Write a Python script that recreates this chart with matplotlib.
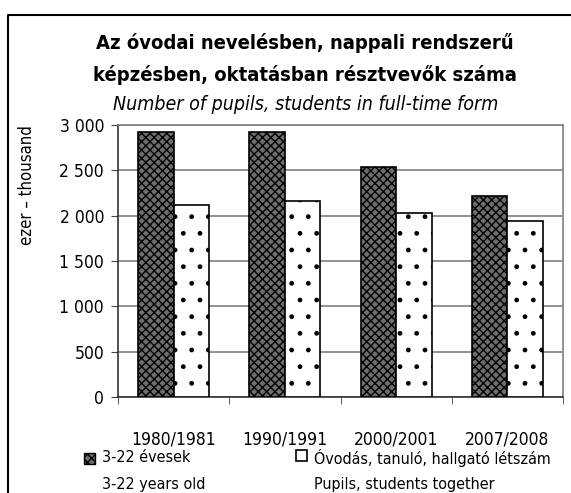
import matplotlib
matplotlib.use("Agg")
import matplotlib.pyplot as plt
from matplotlib.patches import Rectangle
from matplotlib.lines import Line2D
import numpy as np

plt.rcParams['font.family'] = ['DejaVu Sans']
plt.rcParams['font.stretch'] = 'condensed'
plt.rcParams['hatch.linewidth'] = 1.0

# data (thousand persons)
years = ['1980/1981', '1990/1991', '2000/2001', '2007/2008']
age_3_22 = [2925, 2926, 2533, 2222]
pupils = [2118, 2162, 2029, 1941]
yticks = [0, 500, 1000, 1500, 2000, 2500, 3000]
ytick_labels = ['0', '500', '1 000', '1 500', '2 000', '2 500', '3 000']

W, H = 571, 493
fig = plt.figure(figsize=(W / 100, H / 100), dpi=100)
ax = fig.add_axes([118 / W, 1 - 397 / H, (563 - 118) / W, (397 - 125) / H])

x = np.arange(len(years))
bw = 0.32
ax.bar(x - bw / 2, age_3_22, bw, facecolor='#6e6e6e', edgecolor='black',
       hatch='xxxx', linewidth=1.2, zorder=3)
ax.bar(x + bw / 2, pupils, bw, facecolor='white', edgecolor='black',
       hatch='.', linewidth=1.2, zorder=3)

ax.set_xlim(-0.5, len(years) - 0.5)
ax.set_ylim(0, 3000)
ax.set_yticks(yticks)
ax.set_yticklabels(ytick_labels, fontsize=12.5)
ax.set_xticks(x)
ax.set_xticklabels(years, fontsize=12.5)
ax.tick_params(axis='x', length=0, pad=24)
ax.set_xticks(np.arange(len(years) + 1) - 0.5, minor=True)
ax.tick_params(axis='x', which='minor', length=5, direction='out', color='#444444')
ax.tick_params(axis='y', length=5, direction='out', pad=5, color='#444444')
ax.yaxis.grid(True, color='#808080', linewidth=1.2, zorder=0)
for s in ['top', 'right']:
    ax.spines[s].set_color('#808080')
    ax.spines[s].set_linewidth(1.2)
for s in ['left', 'bottom']:
    ax.spines[s].set_color('#333333')
    ax.spines[s].set_linewidth(1.2)

ax.set_ylabel('ezer – thousand', fontsize=12)
ax.yaxis.set_label_coords(-0.185, 0.78)

# titles
fig.text(305 / W, 1 - 43 / H, 'Az óvodai nevelésben, nappali rendszerű',
         ha='center', va='center', fontsize=14.5, fontweight='bold')
fig.text(305 / W, 1 - 75 / H, 'képzésben, oktatásban résztvevők száma',
         ha='center', va='center', fontsize=14.5, fontweight='bold')
fig.text(306 / W, 1 - 105 / H, 'Number of pupils, students in full-time form',
         ha='center', va='center', fontsize=14, style='italic')

# legend drawn by hand
fig.patches.append(Rectangle((84 / W, 1 - 464 / H), 11 / W, 11 / H,
                             transform=fig.transFigure, facecolor='#6e6e6e',
                             edgecolor='black', hatch='xxxx', linewidth=1))
fig.text(102 / W, 1 - 458 / H, '3-22 évesek', ha='left', va='center', fontsize=11.5)
fig.text(102 / W, 1 - 485 / H, '3-22 years old', ha='left', va='center', fontsize=11.5)
fig.patches.append(Rectangle((296 / W, 1 - 461 / H), 11 / W, 11 / H,
                             transform=fig.transFigure, facecolor='white',
                             edgecolor='black', hatch='.', linewidth=1.2))
fig.text(314 / W, 1 - 458 / H, 'Óvodás, tanuló, hallgató létszám', ha='left',
         va='center', fontsize=11.5)
fig.text(314 / W, 1 - 485 / H, 'Pupils, students together', ha='left',
         va='center', fontsize=11.5)

# outer frame (top and left visible)
fig.lines.append(Line2D([8 / W, 8 / W, 1.0], [0.0, 1 - 15 / H, 1 - 15 / H],
                        transform=fig.transFigure, color='black', linewidth=1.5))

fig.savefig('out.png', dpi=100)
